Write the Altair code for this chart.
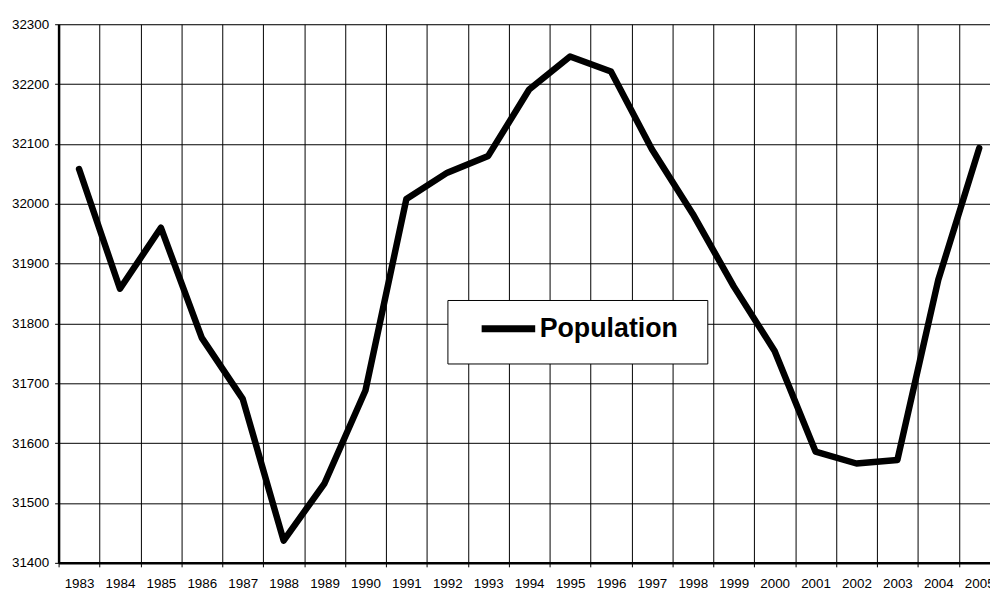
import altair as alt
import pandas as pd

# ---- data ----
years = list(range(1983, 2006))
population = [32058, 31858, 31960, 31776, 31674, 31437, 31533, 31688,
              32008, 32052, 32080, 32191, 32246, 32221, 32091, 31983,
              31862, 31754, 31586, 31566, 31572, 31873, 32093]
series_name = "Population"
y_ticks = list(range(31400, 32301, 100))

df = pd.DataFrame({"year": years, "population": population,
                   "series": [series_name] * len(years)})

# category boundaries (gridlines/ticks) and category centres (labels)
x_values = sorted(years + [y - 0.5 for y in years])

FONT = "Liberation Sans"
PX_PER_YEAR = 41.25
PLOT_W = 939
PLOT_H = 543
x_max = 1982.5 + PLOT_W / PX_PER_YEAR

x_axis = alt.Axis(
    values=x_values,
    title=None,
    labelExpr="datum.value % 1 == 0 ? format(datum.value, 'd') : ''",
    labelOverlap=False,
    labelFlush=False,
    labelFont=FONT,
    labelFontSize=13.5,
    labelColor="black",
    labelPadding=10,
    grid=True,
    gridColor="black",
    gridWidth=1,
    gridOpacity={"condition": {"test": "datum.value % 1 != 0", "value": 1}, "value": 0},
    tickOpacity={"condition": {"test": "datum.value % 1 != 0", "value": 1}, "value": 0},
    tickColor="black",
    tickSize=4,
    domainColor="black",
    domainWidth=2.5,
)

y_axis = alt.Axis(
    values=y_ticks,
    title=None,
    format="d",
    labelFont=FONT,
    labelFontSize=13.5,
    labelColor="black",
    labelPadding=6,
    grid=True,
    gridColor="black",
    gridWidth=1,
    tickColor="black",
    tickSize=4,
    domainColor="black",
    domainWidth=2.5,
)

# invisible spacer title under the entry widens the legend box to its reference size
spacer = "M" * 73

legend = alt.Legend(
    title=spacer,
    titleOrient="bottom",
    titleFont=FONT,
    titleFontSize=4,
    titleFontWeight="normal",
    titleLimit=600,
    titleOpacity=0,
    titlePadding=2,
    orient="none",
    legendX=392,
    legendY=278,
    fillColor="white",
    strokeColor="black",
    padding=9,
    clipHeight=40,
    symbolType="stroke",
    symbolSize=54 * 54,
    symbolOffset=22,
    symbolStrokeWidth=7,
    symbolStrokeColor="black",
    labelFont=FONT,
    labelFontSize=27,
    labelFontWeight="bold",
    labelColor="black",
    labelOffset=1,
    labelLimit=400,
)

chart = alt.Chart(df).mark_line(
    strokeWidth=6.5, strokeJoin="round", strokeCap="round"
).encode(
    x=alt.X("year:Q", scale=alt.Scale(domain=[1982.5, x_max], nice=False, zero=False), axis=x_axis),
    y=alt.Y("population:Q", scale=alt.Scale(domain=[31400, 32300], nice=False, zero=False), axis=y_axis),
    color=alt.Color("series:N", scale=alt.Scale(range=["black"]), legend=legend),
).properties(
    width=PLOT_W,
    height=PLOT_H,
    autosize=alt.AutoSizeParams(type="none"),
    padding={"left": 51, "top": 14, "right": 0, "bottom": 25},
).configure_view(stroke=None).configure(background="white")

chart.save("out.html", embed_options={"renderer": "svg", "actions": False})
